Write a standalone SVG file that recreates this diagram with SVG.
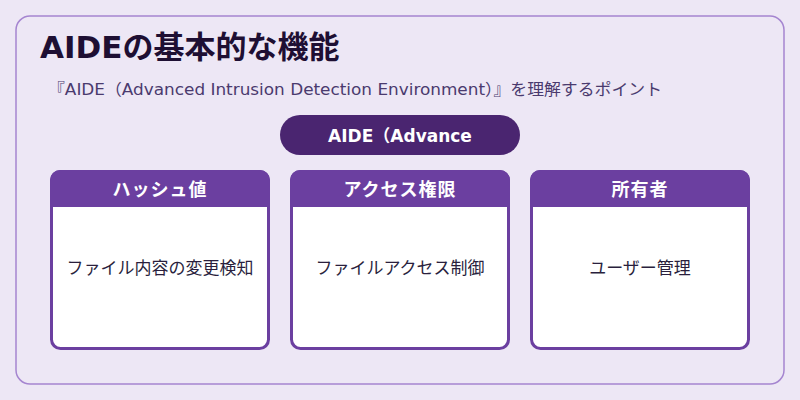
<svg xmlns="http://www.w3.org/2000/svg" width="800" height="400" viewBox="0 0 800 400">
<style>
text{font-family:"DejaVu Sans","Noto Sans CJK JP",sans-serif}
.card{fill:#fff;stroke:#6b3fa0;stroke-width:3}
.hd{fill:#6b3fa0}
.ht{fill:#fff;font-size:18px;font-weight:bold;text-anchor:middle;letter-spacing:1px}
.bt{fill:#2a1f3d;font-size:17px;text-anchor:middle}
</style>
<rect width="800" height="400" fill="#ede7f5"/>
<rect x="16" y="16" width="768" height="368" rx="14" fill="#ede7f5" stroke="#a585d0" stroke-width="1.5"/>
<text x="40" y="58" font-size="31" font-weight="bold" fill="#1e0f33">AIDEの基本的な機能</text>
<text x="48" y="95" font-size="16" fill="#4a3a6e" textLength="614" lengthAdjust="spacingAndGlyphs">『AIDE（Advanced Intrusion Detection Environment）』を理解するポイント</text>
<g id="pill"><rect x="280" y="115" width="240" height="40" rx="20" fill="#4a2570"/>
<text x="400" y="142" font-size="17" font-weight="bold" fill="#fff" text-anchor="middle">AIDE（Advance</text></g>
<g id="n1"><rect class="card" x="51.5" y="171.5" width="217" height="177" rx="9"/>
<path class="hd" d="M50 207V180a10 10 0 0 1 10-10h200a10 10 0 0 1 10 10v27z"/>
<text class="ht" x="160" y="196">ハッシュ値</text><text class="bt" x="160" y="274">ファイル内容の変更検知</text></g>
<g id="n2"><rect class="card" x="291.5" y="171.5" width="217" height="177" rx="9"/>
<path class="hd" d="M290 207V180a10 10 0 0 1 10-10h200a10 10 0 0 1 10 10v27z"/>
<text class="ht" x="400" y="196">アクセス権限</text><text class="bt" x="400" y="274">ファイルアクセス制御</text></g>
<g id="n3"><rect class="card" x="531.5" y="171.5" width="217" height="177" rx="9"/>
<path class="hd" d="M530 207V180a10 10 0 0 1 10-10h200a10 10 0 0 1 10 10v27z"/>
<text class="ht" x="640" y="196">所有者</text><text class="bt" x="640" y="274">ユーザー管理</text></g>
<g id="connectors"/>
</svg>
